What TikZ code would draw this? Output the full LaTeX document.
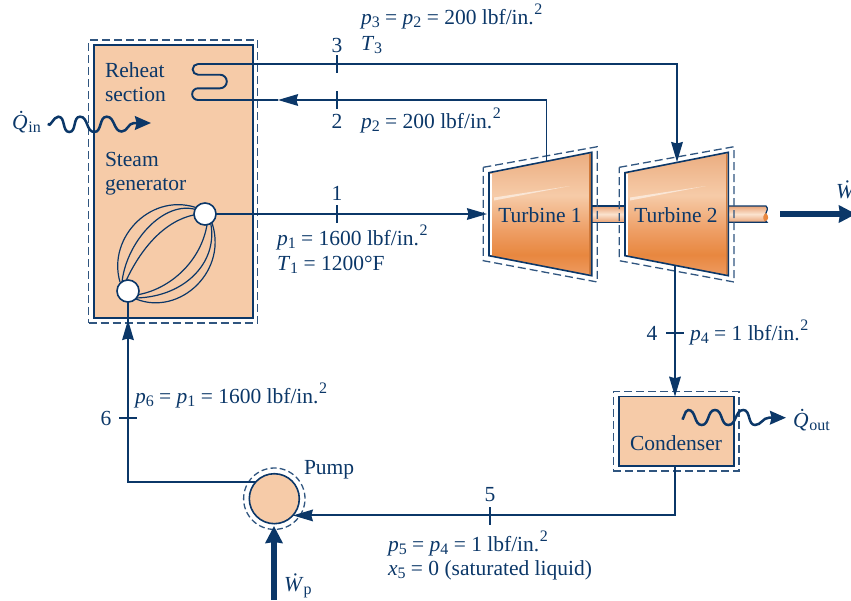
\documentclass[tikz,border=0pt]{standalone}
\usepackage{fontspec}
\setmainfont{Liberation Serif}
\usetikzlibrary{arrows.meta,positioning,calc}
\definecolor{deep}{HTML}{0B3768}
\definecolor{peach}{HTML}{F6CBA8}
\definecolor{tsa}{HTML}{EBAD80}
\definecolor{tsb}{HTML}{F6CBA8}
\definecolor{tsc}{HTML}{EE9F66}
\definecolor{tsd}{HTML}{E8873F}
\definecolor{tse}{HTML}{EE9C62}
\definecolor{ssa}{HTML}{E9A376}
\definecolor{ssb}{HTML}{FBE3CF}
\pgfdeclareverticalshading{turbfill}{100bp}{color(0bp)=(tse); color(25bp)=(tse); color(33.5bp)=(tsd);
  color(43.5bp)=(tsc); color(57.6bp)=(tsb); color(75bp)=(tsa); color(100bp)=(tsa)}
\pgfdeclareverticalshading{shaftfill}{100bp}{color(0bp)=(ssa); color(25bp)=(ssa); color(50bp)=(ssb);
  color(75bp)=(ssa); color(100bp)=(ssa)}
\tikzset{
  lab/.style     ={font=\fontsize{10.75}{12}\selectfont, text=deep, inner sep=0pt, outer sep=0pt, anchor=base},
  lft/.style     ={lab, anchor=base west},
  unit/.style    ={draw=deep, line width=0.8pt, fill=peach, inner sep=0pt, outer sep=0pt},
  bound/.style   ={draw=deep!85, line width=0.65pt, dash pattern=on 4pt off 2pt, inner sep=0pt, outer sep=0pt},
  header/.style  ={circle, draw=deep, line width=0.8pt, fill=white, inner sep=0pt, outer sep=0pt, minimum size=11pt},
  pipe/.style    ={draw=deep, line width=0.95pt},
  flow/.style    ={pipe, -{Stealth[length=10pt,width=5.8pt,inset=0.8pt]}},
  heavy/.style   ={draw=deep, line width=3pt, -{Stealth[length=8.5pt,width=8.5pt,inset=0.5pt]}},
  wavy/.style    ={draw=deep, line width=1.25pt, -{Stealth[length=8pt,width=6.8pt,inset=0.8pt]}},
  coil/.style    ={draw=deep, line width=0.6pt},
  tick/.style    ={draw=deep, line width=0.7pt},
}
\newcommand{\lsub}[1]{\raisebox{-0.4ex}{\fontsize{8}{8}\selectfont #1}}
\newcommand{\lsup}[1]{\raisebox{0.95ex}{\fontsize{8}{8}\selectfont #1}}
\newcommand{\vsub}[2]{\textit{#1}\lsub{#2}}
\newcommand{\psiunit}{lbf/in.\kern0.3pt\lsup{2}}
\newcommand{\qdot}{\textit{\.Q}\kern-2.6pt}

\begin{document}
\begin{tikzpicture}[x=0.5pt,y=-0.5pt]
  \useasboundingbox (0,0) rectangle (851,600);
  % steam generator and condenser
  \node[bound, minimum width=84.5pt, minimum height=141.5pt] (sgenb) at (173.2,181.5) {};
  \node[unit, minimum width=79.5pt, minimum height=136.5pt] (sgen) at (173.5,181.5) {};
  \node[bound, minimum width=62.85pt, minimum height=39.65pt] (condb) at (676.2,431.3) {};
  \node[unit, minimum width=57.5pt, minimum height=34.65pt] (cond) at (676.5,431.3) {};
  \node[bound, circle, minimum size=30.7pt, dash pattern=on 3pt off 1.6pt] (pumpb) at (274.3,498.7) {};
  \node[unit, circle, minimum size=25pt] (pump) at (274.3,498.7) {};
  % shafts
  \path[shading=shaftfill] (592,206) rectangle (625,222.3);
  \draw[pipe,line width=0.6pt] (592,206) -- (625,206) (592,222.3) -- (625,222.3);
  \path[shading=shaftfill] (728,206) -- (766,206) .. controls (771,211) and (760,216) .. (767,222.3) -- (728,222.3) -- cycle;
  \draw[pipe,line width=0.6pt] (728,222.3) -- (767,222.3) .. controls (760,216) and (771,211) .. (766,206) -- (728,206);
  \path[fill=tsd] (765,221.5) .. controls (762,218) and (763,215) .. (766,213) .. controls (769,216) and (769,220) .. (765,221.5);
  % turbines
  \shade[shading=turbfill] (489,172.7) -- (591.7,152.3) -- (591.7,275.7) -- (489,255.7) -- cycle;
  \shade[shading=turbfill] (625,172.7) -- (728.3,152.3) -- (728.3,275.7) -- (625,255.7) -- cycle;
  \draw[white,line width=0.8pt] (490.8,174) -- (490.8,254.6) (626.8,174) -- (626.8,254.6);
  \draw[draw=tsd!90!black,line width=0.8pt] (590,154) -- (590,274) (726.6,154) -- (726.6,274);
  \fill[white,opacity=0.55] (494,197.5) -- (570,186) -- (494,200.5) -- cycle;
  \fill[white,opacity=0.55] (630,197.5) -- (706,186) -- (630,200.5) -- cycle;
  \draw[draw=deep,line width=0.8pt] (489,172.7) -- (591.7,152.3) -- (591.7,275.7) -- (489,255.7) -- cycle;
  \draw[draw=deep,line width=0.8pt] (625,172.7) -- (728.3,152.3) -- (728.3,275.7) -- (625,255.7) -- cycle;
  \draw[bound] (483.3,167.3) -- (597.3,146.7) -- (597.3,282) -- (483.3,260.7) -- cycle;
  \draw[bound] (619.3,167.3) -- (734,146.7) -- (734,282) -- (619.3,260.7) -- cycle;
  \node[lab] (turbA) at (540,222) {Turbine 1};
  \node[lab] (turbB) at (676,222) {Turbine 2};
  % free ends of the pipes
  \coordinate (coilin) at (198,64);
  \coordinate (coilhead) at (278,100);
  \coordinate (t1in) at (487,214);
  \coordinate (t1out) at (546.5,161);
  \coordinate (t2in) at (677,162);
  \coordinate (t2out) at (675,266);
  \coordinate (head6) at (128,320);
  \coordinate (tail6) at (128,345);
  % reheat coil
  \draw[pipe] (coilin) arc[start angle=-90,end angle=-270,radius=5.35] -- (220,74.7)
    arc[start angle=-90,end angle=90,radius=6.8] -- (198,88.3)
    arc[start angle=-90,end angle=-270,radius=5.85] -- (coilhead);
  % tubes of the generator
  \draw[coil] (120,282) .. controls (106.7,236.7) and (153,190) .. (200,209);
  \draw[coil] (122,282) .. controls (126.7,240) and (166.7,196.7) .. (200,211);
  \draw[coil] (125,283) .. controls (143,243) and (170,217) .. (200,214);
  \draw[coil] (136,295) .. controls (170,290) and (203.3,260) .. (207.7,220);
  \draw[coil] (136,298) .. controls (186.7,296.7) and (220,260) .. (210,220);
  \draw[coil] (136,299) .. controls (180,316.7) and (230,270) .. (211,220);
  \node[header] (hdrup) at (205,214) {};
  \node[header] (hdrlow) at (128,291) {};
  % main loop
  \draw[flow] (hdrup) -- (t1in);
  \draw[flow] (t1out) |- (coilhead);
  \draw[flow] (coilin) -| (t2in);
  \draw[flow] (t2out) -- (t2out |- cond.north);
  \draw[flow] (cond.south -| t2out) |- (pump.-42);
  \draw[pipe] (pump.138) -| (hdrlow);
  \draw[flow] (tail6) -- (head6);
  % work and heat
  \coordinate (wout) at (856,214);
  \coordinate (wstart) at (780,214);
  \draw[heavy] (wstart) -- (wout);
  \coordinate (wpin) at (274,526);
  \coordinate (wpstart) at (274,600);
  \draw[heavy] (wpstart) -- (wpin);
  \coordinate (qina) at (47.7,124);
  \coordinate (qinb) at (151,123);
  \draw[wavy] (qina) to[out=-60,in=180] (58.3,116.7) to[out=0,in=180] (69.3,132) to[out=0,in=180] (80,116.7)
    to[out=0,in=180] (94.3,132) to[out=0,in=180] (106.7,116.7) to[out=0,in=180] (121.7,131.5)
    to[out=0,in=180] (134,123) -- (qinb);
  \coordinate (qouta) at (681.7,418.3);
  \coordinate (qoutb) at (786,417.7);
  \draw[wavy] (qouta) to[out=-60,in=180] (688.3,410) to[out=0,in=180] (701.7,425) to[out=0,in=180] (715,410)
    to[out=0,in=180] (728.3,425) to[out=0,in=180] (743.3,410) to[out=0,in=180] (755,425)
    to[out=0,in=180] (769,417.7) -- (qoutb);
  % state marks
  \foreach \name/\cx/\cy in {a/337/64,b/337/100,c/337/214}
    \draw[tick] (\cx,\cy-9) -- (\cx,\cy+9);
  \foreach \name/\cx/\cy in {d/675/333,e/128/418}
    \draw[tick] (\cx-9,\cy) -- (\cx+9,\cy);
  \draw[tick] (490,507) -- (490,525);
  \node[lab] (stA) at (337,200) {1};
  \node[lab] (stB) at (337,128) {2};
  \node[lab] (stC) at (337,52) {3};
  \node[lab] (stD) at (652,340) {4};
  \node[lab] (stE) at (490,501) {5};
  \node[lab] (stF) at (106,425) {6};
  % labels
  \node[lft] (lreheatA) at (105,77) {Reheat};
  \node[lft] (lreheatB) at (105,101) {section};
  \node[lft] (lsteamA) at (105,166) {Steam};
  \node[lft] (lsteamB) at (105,190) {generator};
  \node[lab] (lcond) at (676,450) {Condenser};
  \node[lft] (lpump) at (304,474) {Pump};
  \node[lft] (lqin) at (12,129) {\qdot\lsub{in}};
  \node[lft] (lqout) at (793,427) {\qdot\lsub{out}};
  \node[lft] (lw) at (836,198) {\textit{\.W}};
  \node[lft] (lwp) at (284,591) {\textit{\.W}\lsub{p}};
  \node[lft] (pthree) at (361,24) {\vsub{p}{3} = \vsub{p}{2} = 200 \psiunit};
  \node[lft] (tthree) at (361,50) {\vsub{T}{3}};
  \node[lft] (ptwo) at (361,128) {\vsub{p}{2} = 200 \psiunit};
  \node[lft] (pone) at (277,245) {\vsub{p}{1} = 1600 \psiunit};
  \node[lft] (tone) at (277,270) {\vsub{T}{1} = 1200°F};
  \node[lft] (pfour) at (690,340) {\vsub{p}{4} = 1 \psiunit};
  \node[lft] (psix) at (135,403) {\vsub{p}{6} = \vsub{p}{1} = 1600 \psiunit};
  \node[lft] (pfive) at (388,551) {\vsub{p}{5} = \vsub{p}{4} = 1 \psiunit};
  \node[lft] (xfive) at (388,575) {\vsub{x}{5} = 0 (saturated liquid)};
\end{tikzpicture}
\end{document}
